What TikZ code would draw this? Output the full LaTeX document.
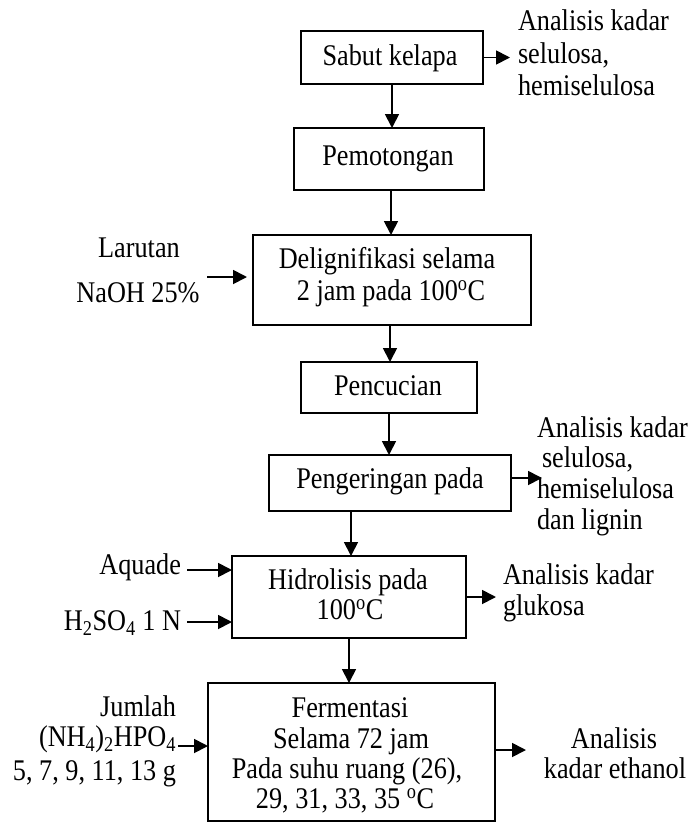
\documentclass[tikz,border=0pt]{standalone}
\usepackage{fontspec}
\setmainfont[FakeStretch=0.875]{Liberation Serif}
\usetikzlibrary{arrows.meta}
\begin{document}
\begin{tikzpicture}[x=1pt,y=-1pt,
  box/.style={draw,line width=1.8pt,inner sep=0pt,outer sep=0pt},
  txt/.style={font=\fontsize{30}{34}\selectfont,inner sep=0pt,outer sep=0pt,text height=19pt,text depth=5pt},
  arr/.style={line width=1.8pt,-{Triangle[length=14pt,width=14pt]}}]
\useasboundingbox (0,0) rectangle (690,823);

% boxes
\node[box,minimum width=182,minimum height=53] (b1) at (392,57.5) {};
\node[box,minimum width=190,minimum height=62] (b2) at (389,159) {};
\node[box,minimum width=278,minimum height=90] (b3) at (392,280) {};
\node[box,minimum width=176,minimum height=51] (b4) at (389,387.5) {};
\node[box,minimum width=242,minimum height=56] (b5) at (390,483) {};
\node[box,minimum width=234,minimum height=82] (b6) at (349,597) {};
\node[box,minimum width=287,minimum height=138] (b7) at (351.5,752) {};

% box texts
\node[txt,anchor=base] (t1) at (390,65) {Sabut kelapa};
\node[txt,anchor=base] (t2) at (388,165) {Pemotongan};
\node[txt,anchor=base] (t3a) at (387,268) {Delignifikasi selama};
\node[txt,anchor=base] (t3b) at (391,300) {2 jam pada 100\textsuperscript{o}C};
\node[txt,anchor=base] (t4) at (388,395) {Pencucian};
\node[txt,anchor=base] (t5) at (390,488) {Pengeringan pada};
\node[txt,anchor=base] (t6a) at (348,589) {Hidrolisis pada};
\node[txt,anchor=base] (t6b) at (350,619) {100\textsuperscript{o}C};
\node[txt,anchor=base] (t7a) at (350,717) {Fermentasi};
\node[txt,anchor=base] (t7b) at (351,748) {Selama 72 jam};
\node[txt,anchor=base] (t7c) at (347,778) {Pada suhu ruang (26),};
\node[txt,anchor=base] (t7d) at (345,808) {29, 31, 33, 35 \textsuperscript{o}C};

% side texts
\node[txt,anchor=base west] (r1a) at (518,30) {Analisis kadar};
\node[txt,anchor=base west] (r1b) at (518,63) {selulosa,};
\node[txt,anchor=base west] (r1c) at (518,95) {hemiselulosa};

\node[txt,anchor=base] (l3a) at (139,257) {Larutan};
\node[txt,anchor=base] (l3b) at (138,302) {NaOH 25\%};

\node[txt,anchor=base west] (r5a) at (537,437) {Analisis kadar};
\node[txt,anchor=base west] (r5b) at (542,467) {selulosa,};
\node[txt,anchor=base west] (r5c) at (537,498) {hemiselulosa};
\node[txt,anchor=base west] (r5d) at (537,529) {dan lignin};

\node[txt,anchor=base east] (l6a) at (181,574) {Aquade};
\node[txt,anchor=base east] (l6b) at (181,630) {H\textsubscript{2}SO\textsubscript{4} 1 N};

\node[txt,anchor=base west] (r6a) at (503,584) {Analisis kadar};
\node[txt,anchor=base west] (r6b) at (503,615) {glukosa};

\node[txt,anchor=base east] (l7a) at (176,716) {Jumlah};
\node[txt,anchor=base east] (l7b) at (176,746) {(NH\textsubscript{4})\textsubscript{2}HPO\textsubscript{4}};
\node[txt,anchor=base east] (l7c) at (176,780) {5, 7, 9, 11, 13 g};

\node[txt,anchor=base] (r7a) at (614,748) {Analisis};
\node[txt,anchor=base] (r7b) at (615,778) {kadar ethanol};

% vertical connectors
\draw[arr] (b1.south) -- (b1.south |- b2.north);
\draw[arr] ([xshift=2pt]b2.south) -- ([xshift=2pt]b2.south |- b3.north);
\draw[arr] ([xshift=-2pt]b3.south) -- ([xshift=-2pt]b3.south |- b4.north);
\draw[arr] (b4.south) -- (b4.south |- b5.north);
\draw[arr] ([xshift=2pt]b6.north |- b5.south) -- ([xshift=2pt]b6.north);
\draw[arr] (b6.south) -- (b6.south |- b7.north);

% horizontal connectors
\coordinate (o1) at (510,57.5);
\draw[arr] (b1.east) -- (o1);
\coordinate (i3) at (207,277);
\draw[arr,shorten >=6pt] (i3) -- (i3 -| b3.west);
\coordinate (o5) at (542,478);
\draw[arr] (b5.east |- o5) -- (o5);
\coordinate (ia) at (187,570);
\draw[arr] (ia) -- (ia -| b6.west);
\coordinate (ih) at (187,622);
\draw[arr] (ih) -- (ih -| b6.west);
\coordinate (o6) at (496,597);
\draw[arr] (b6.east) -- (o6);
\coordinate (ij) at (178,746);
\draw[arr] (ij) -- (ij -| b7.west);
\coordinate (o7) at (526,750);
\draw[arr] ([xshift=1pt]b7.east |- o7) -- (o7);
\end{tikzpicture}
\end{document}
